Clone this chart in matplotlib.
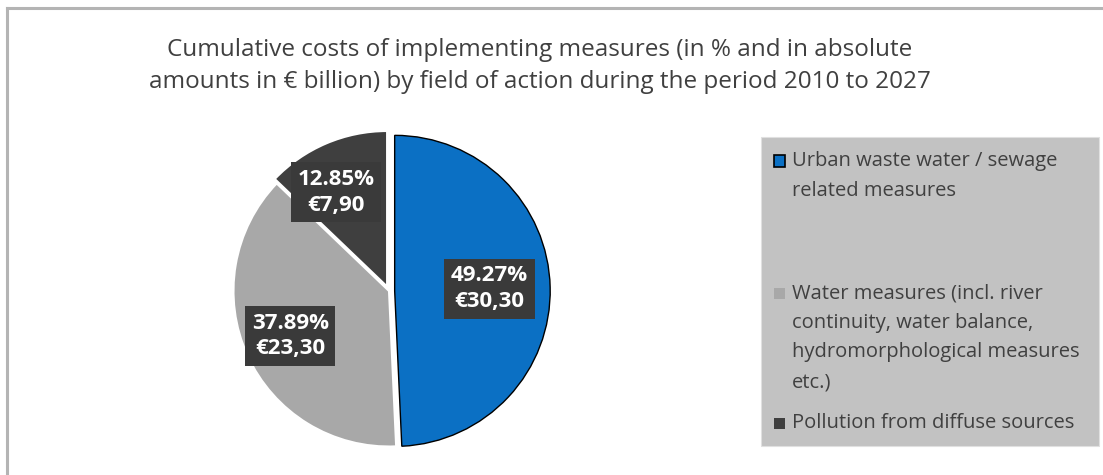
import numpy as np
import matplotlib
matplotlib.use("Agg")
import matplotlib.pyplot as plt
from matplotlib.patches import Rectangle
from matplotlib.lines import Line2D

# data
categories = [
    "Urban waste water / sewage\nrelated measures",
    "Water measures (incl. river\ncontinuity, water balance,\nhydromorphological measures\netc.)",
    "Pollution from diffuse sources",
]
amounts = [30.30, 23.30, 7.90]          # € billion
shares = [49.27, 37.89, 12.85]          # % as printed
colors = ["#0b70c4", "#a8a8a8", "#3f3f3f"]

plt.rcParams["font.family"] = ["Open Sans", "DejaVu Sans"]

W, H = 1103, 475
fig = plt.figure(figsize=(W / 100, H / 100), dpi=100)
fig.patch.set_facecolor("white")

# frame lines (top and left only)
fig.add_artist(Line2D([7 / W, 1], [1 - 8 / H, 1 - 8 / H], color="#b4b4b4", lw=2.2,
                      transform=fig.transFigure))
fig.add_artist(Line2D([7 / W, 7 / W], [0, 1 - 8 / H], color="#b4b4b4", lw=2.2,
                      transform=fig.transFigure))

fig.text(540 / W, 1 - 66 / H,
         "Cumulative costs of implementing measures (in % and in absolute\n"
         "amounts in € billion) by field of action during the period 2010 to 2027",
         ha="center", va="center", fontsize=17.5, color="#404040", linespacing=1.45)

# pie
cx, cy, r = 389, 291, 162
ax = fig.add_axes([(cx - r) / W, 1 - (cy + r) / H, 2 * r / W, 2 * r / H])
wedges, _ = ax.pie(amounts, colors=colors, startangle=90, counterclock=False,
                   radius=0.96, explode=[0.035, 0.0, 0.03],
                   wedgeprops=dict(edgecolor="white", linewidth=1.5))
wedges[0].set_edgecolor("black")
wedges[0].set_linewidth(1.0)
ax.set_xlim(-1, 1)
ax.set_ylim(-1, 1)
ax.set_aspect("equal")
ax.axis("off")

# label placement: (distance from centre, angle nudge in degrees)
label_pos = [(0.62, 0), (0.67, 0), (0.69, 5)]
for w, s, a, (d, nudge) in zip(wedges, shares, amounts, label_pos):
    ang = np.deg2rad((w.theta1 + w.theta2) / 2 + nudge)
    x, y = d * np.cos(ang), d * np.sin(ang)
    ax.text(x, y, f"{s:.2f}%\n€" + f"{a:.2f}".replace(".", ","),
            ha="center", va="center", color="white", fontsize=16, fontweight="bold",
            linespacing=1.3,
            bbox=dict(boxstyle="square,pad=0.3", fc="#3a3a3a", ec="none"))

# legend
lx0, ly0, lx1, ly1 = 761, 137, 1099, 446
fig.add_artist(Rectangle((lx0 / W, 1 - ly1 / H), (lx1 - lx0) / W, (ly1 - ly0) / H,
                         transform=fig.transFigure, fc="#c2c2c2", ec="#e0e0e0", lw=0.8))
entry_y = [161, 293, 423]
for lab, col, ey in zip(categories, colors, entry_y):
    sq = 11
    fig.add_artist(Rectangle((774 / W, 1 - (ey + sq / 2) / H), sq / W, sq / H,
                             transform=fig.transFigure, fc=col,
                             ec="black" if col == colors[0] else "none", lw=1.2))
    fig.text(792 / W, 1 - (ey - 10) / H, lab, ha="left", va="top", fontsize=14.5,
             color="#404040", linespacing=1.65)

fig.savefig("out.png", dpi=100)
